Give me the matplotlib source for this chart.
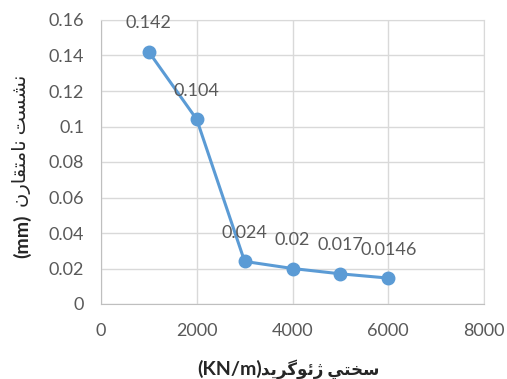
import matplotlib
matplotlib.use("Agg")
import matplotlib.pyplot as plt

stiffness = [1000, 2000, 3000, 4000, 5000, 6000]
settlement = [0.142, 0.104, 0.024, 0.02, 0.017, 0.0146]
value_labels = ["0.142", "0.104", "0.024", "0.02", "0.017", "0.0146"]
x_ticks = [0, 2000, 4000, 6000, 8000]
y_ticks = [0, 0.02, 0.04, 0.06, 0.08, 0.1, 0.12, 0.14, 0.16]
y_tick_labels = ["0", "0.02", "0.04", "0.06", "0.08", "0.1", "0.12", "0.14", "0.16"]

# Persian labels in presentation forms (visual order) since matplotlib does no shaping
# y: "نشست نامتقارن (mm)"
w_neshast = "\uFEE7\uFEB8\uFEB4\uFE96"            # نشست
w_namotagharen = "\uFEE7\uFE8E\uFEE3\uFE98\uFED8\uFE8E\uFEAD\uFEE5"  # نامتقارن
y_unit = "(mm)"
y_words = w_namotagharen[::-1] + " " + w_neshast[::-1]
# x: "سختی ژئوگرید(KN/m)"
w_sakhti = "\uFEB3\uFEA8\uFE98\uFEF2"              # سختی
w_geogrid = "\uFB8A\uFE8B\uFEEE\uFB94\uFEAE\uFEF3\uFEAA"  # ژئوگرید
x_unit = "(KN/m)"
x_words = w_geogrid[::-1] + " " + w_sakhti[::-1]

plt.rcParams['font.family'] = ['Lato', 'DejaVu Sans']

W, H = 507, 379
fig = plt.figure(figsize=(W / 100, H / 100), dpi=100)
ax = fig.add_axes([101 / W, 1 - 304 / H, 383 / W, 284 / H])

line_color = "#5B9BD5"
text_color = "#595959"
grid_color = "#D9D9D9"
label_color = "#262626"

ax.plot(stiffness, settlement, color=line_color, linewidth=2.2,
        marker="o", markersize=9, zorder=3)
for x, y, t in zip(stiffness, settlement, value_labels):
    ax.annotate(t, (x, y), xytext=(0, 20.5), textcoords="offset points",
                ha="center", va="center", fontsize=13, color=text_color, zorder=4)

ax.set_xlim(0, 8000)
ax.set_ylim(0, 0.16)
ax.set_xticks(x_ticks)
ax.set_xticklabels([str(v) for v in x_ticks])
ax.set_yticks(y_ticks)
ax.set_yticklabels(y_tick_labels)
ax.grid(True, color=grid_color, linewidth=1)
ax.set_axisbelow(True)
for s in ax.spines.values():
    s.set_color(grid_color)
ax.spines['left'].set_color("#BFBFBF")
ax.spines['bottom'].set_color("#BFBFBF")
ax.tick_params(axis='both', length=0, labelsize=13, colors=text_color)
ax.tick_params(axis='x', pad=14)
ax.tick_params(axis='y', pad=12)

# y-axis title: bold unit at bottom, Persian words above
fig.text(22 / W, 1 - 258 / H, y_unit, rotation=90, ha="center", va="bottom",
         fontsize=14, fontweight="bold", color=label_color)
fig.text(22 / W, 1 - 207 / H, y_words, rotation=90, ha="center", va="bottom",
         fontsize=14, color=label_color)
# x-axis title: bold unit at left, Persian words right
fig.text(197 / W, 1 - 369 / H, x_unit, ha="left", va="center",
         fontsize=14, fontweight="bold", color=label_color)
fig.text(379 / W, 1 - 369 / H, x_words, ha="right", va="center",
         fontsize=12, fontweight="bold", color=label_color)

fig.savefig("out.png", dpi=100, facecolor="white")
